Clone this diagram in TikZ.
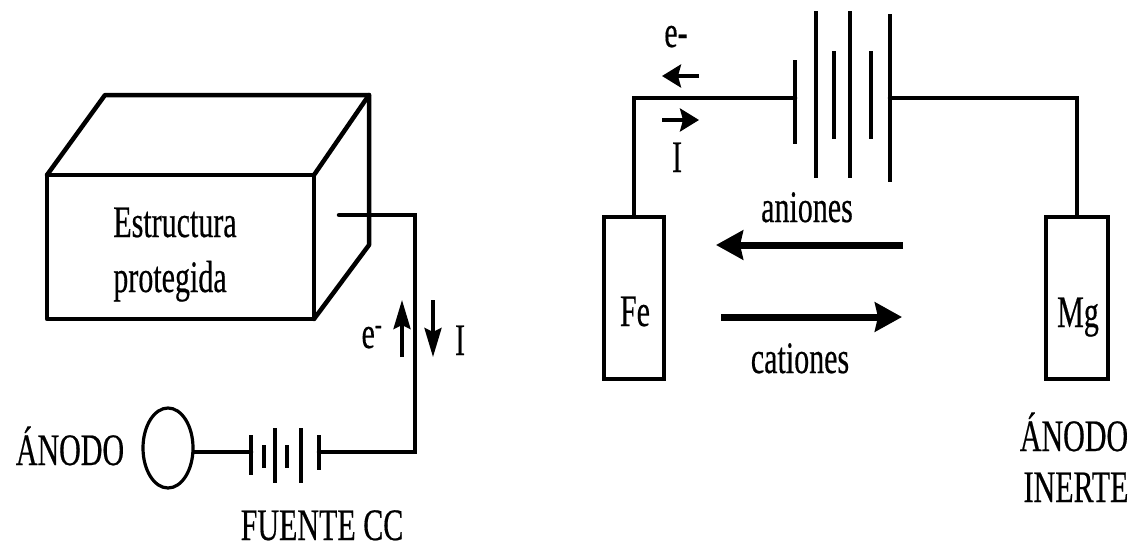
\documentclass[tikz,border=0pt]{standalone}
\usepackage{fontspec}
\setmainfont{Liberation Serif}
\usetikzlibrary{arrows.meta,shapes.geometric}
\newcommand\lbl[1]{\scalebox{1}[1.5]{\addfontfeature{FakeBold=0.5}#1}}
\tikzset{
  wire/.style={line width=4.5pt,line cap=round,line join=miter},
  solid box/.style={draw,line width=4.5pt,fill=white,inner sep=0pt},
  plate/.style={line width=4.5pt},
  thinplate/.style={line width=3.5pt},
  tag/.style={inner sep=0pt,anchor=base,font=\fontsize{30}{30}\selectfont},
  vert arrow/.style={line width=3.5pt,-{Stealth[length=29pt,width=17pt,inset=4pt]}},
  horiz arrow/.style={line width=3.5pt,-{Stealth[length=19pt,width=23pt,inset=3pt]}},
  big arrow/.style={line width=7pt,-{Stealth[length=27pt,width=29pt,inset=3pt]}}
}
\begin{document}
\begin{tikzpicture}[x=1pt,y=-1pt]
\useasboundingbox (0,0) rectangle (1140,549);
% protected structure
\coordinate (fa) at (47,175); \coordinate (fb) at (314,175);
\coordinate (fc) at (314,319); \coordinate (fd) at (47,319);
\coordinate (ba) at (105,95); \coordinate (bb) at (369,95); \coordinate (bc) at (369,245);
\draw[wire,line join=round] (fa) -- (fb) -- (fc) -- (fd) -- cycle;
\draw[wire,line join=round] (fa) -- (ba) -- (bb) -- (bc) -- (fc);
\draw[wire] (fb) -- (bb);
\node[tag] (t1) at (175,237) {\lbl{Estructura}};
\node[tag] (t2) at (170,292) {\lbl{protegida}};
% left circuit
\coordinate (w0) at (339,215); \coordinate (w1) at (415,215); \coordinate (w2) at (415,452);
\node[draw,line width=3.2pt,ellipse,inner sep=0pt,minimum width=50pt,minimum height=80pt] (anode) at (168,448) {};
\foreach \n/\x/\a/\b/\s in {p1/251/435/475/plate,p2/264/445/468/plate,p3/275/428/483/thinplate,p4/287/445/468/plate,p5/301/428/483/plate,p6/319/435/470/plate}{
  \coordinate (\n a) at (\x,\a); \coordinate (\n b) at (\x,\b);
  \draw[\s] (\n a) -- (\n b);
}
\coordinate (p6m) at (319,452); \coordinate (p1m) at (251,452);
\draw[wire] (w0) -- (w1) -- (w2) -- (p6m);
\draw[wire] (anode.east |- p1m) -- (p1m);
\coordinate (ea) at (402,357); \coordinate (eb) at (402,300);
\coordinate (ia) at (433,300); \coordinate (ib) at (433,357);
\draw[vert arrow] (ea) -- (eb);
\draw[vert arrow] (ia) -- (ib);
\node[tag] (t3) at (372,348) {\lbl{e\textsuperscript{-}}};
\node[tag] (t4) at (460,355) {\lbl{I}};
\node[tag] (t5) at (70,465) {\lbl{ÁNODO}};
\node[tag] (t6) at (322,540) {\lbl{FUENTE CC}};
% right circuit
\node[solid box,minimum width=60pt,minimum height=162pt] (fe) at (634,298) {};
\node[solid box,minimum width=62pt,minimum height=162pt] (mg) at (1077,298) {};
\node[tag] (t7) at (635,326) {\lbl{Fe}};
\node[tag] (t8) at (1078,327) {\lbl{Mg}};
\foreach \n/\x/\a/\b/\s in {q1/795/60/144/thinplate,q2/816/11/178/plate,q3/834/51/139/plate,q4/850/11/178/plate,q5/871/51/139/plate,q6/890/14/182/plate}{
  \coordinate (\n a) at (\x,\a); \coordinate (\n b) at (\x,\b);
  \draw[\s] (\n a) -- (\n b);
}
\coordinate (q1m) at (795,98); \coordinate (q6m) at (890,98);
\draw[wire] (fe.north) -- (fe.north |- q1m) -- (q1m);
\draw[wire] (q6m) -- (mg.north |- q6m) -- (mg.north);
\coordinate (e1) at (699,76); \coordinate (e2) at (662,76);
\coordinate (i1) at (662,120); \coordinate (i2) at (699,120);
\draw[horiz arrow] (e1) -- (e2);
\draw[horiz arrow] (i1) -- (i2);
\node[tag] (t9) at (676,47) {\lbl{e-}};
\node[tag] (t10) at (677,172) {\lbl{I}};
\node[tag] (t11) at (807,222) {\lbl{aniones}};
\node[tag] (t12) at (800,373) {\lbl{cationes}};
\coordinate (a1) at (903,245); \coordinate (a2) at (716,245);
\coordinate (c1) at (721,317); \coordinate (c2) at (902,317);
\draw[big arrow] (a1) -- (a2);
\draw[big arrow] (c1) -- (c2);
\node[tag] (t13) at (1074,451) {\lbl{ÁNODO}};
\node[tag] (t14) at (1076,502) {\lbl{INERTE}};
\end{tikzpicture}
\end{document}
